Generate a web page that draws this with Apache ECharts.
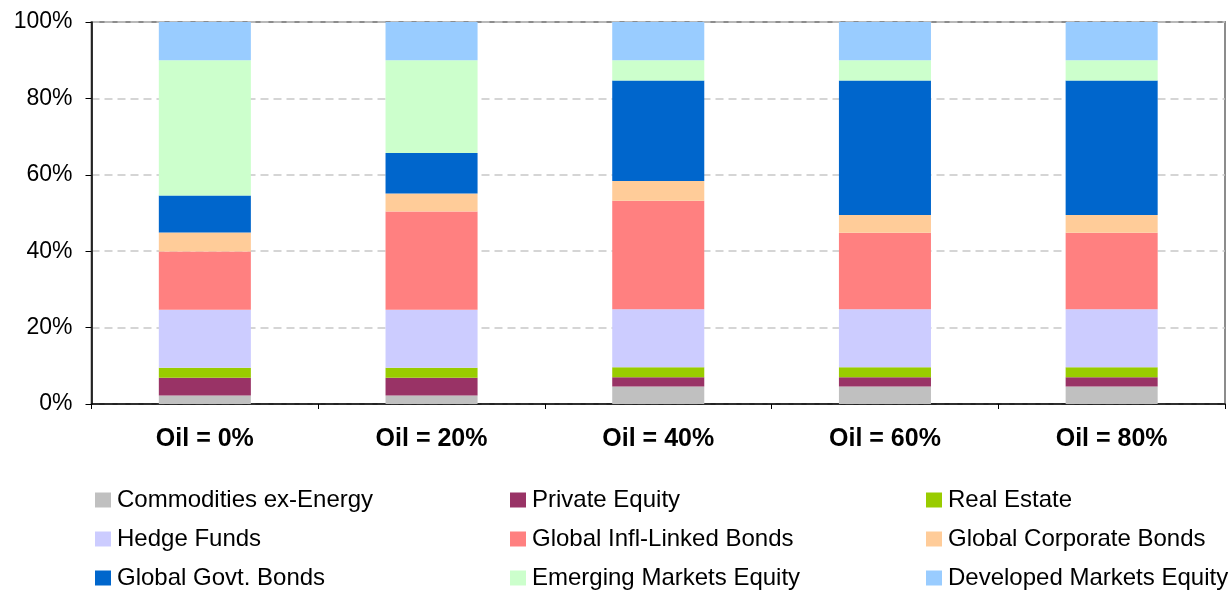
<!DOCTYPE html>
<html>
<head>
<meta charset="utf-8">
<script src="https://cdn.jsdelivr.net/npm/echarts@6/dist/echarts.min.js"></script>
<style>html,body{margin:0;padding:0;background:#fff}#c{width:1232px;height:590px}</style>
</head>
<body>
<div id="c"></div>
<script>
const categories = ['Oil = 0%', 'Oil = 20%', 'Oil = 40%', 'Oil = 60%', 'Oil = 80%'];
const yTicks = [0, 20, 40, 60, 80, 100];
const seriesNames = ['Commodities ex-Energy', 'Private Equity', 'Real Estate', 'Hedge Funds', 'Global Infl-Linked Bonds', 'Global Corporate Bonds', 'Global Govt. Bonds', 'Emerging Markets Equity', 'Developed Markets Equity'];
const commodities = [2.2, 2.2, 4.6, 4.6, 4.6];
const privateEquity = [4.7, 4.7, 2.4, 2.4, 2.4];
const realEstate = [2.6, 2.6, 2.6, 2.6, 2.6];
const hedgeFunds = [15.2, 15.2, 15.2, 15.2, 15.2];
const inflLinked = [15.2, 25.7, 28.4, 20.0, 20.0];
const corporate = [5.0, 4.7, 5.2, 4.7, 4.7];
const govt = [9.7, 10.6, 26.3, 35.2, 35.2];
const emerging = [35.4, 24.3, 5.3, 5.3, 5.3];
const developed = [10.0, 10.0, 10.0, 10.0, 10.0];
const seriesData = [commodities, privateEquity, realEstate, hedgeFunds, inflLinked, corporate, govt, emerging, developed];
const colors = ['#C0C0C0', '#993366', '#99CC00', '#CCCCFF', '#FF8080', '#FFCC99', '#0066CC', '#CCFFCC', '#99CCFF'];

const font = 'Liberation Sans, Arial, sans-serif';
const chart = echarts.init(document.getElementById('c'), null, {renderer: 'canvas'});

const colLeft = [95, 510, 926];
const rowCenter = [500, 539, 578];
const legends = seriesNames.map((n, i) => ({
  orient: 'horizontal', left: colLeft[i % 3], top: rowCenter[Math.floor(i / 3)] - 12,
  padding: 0, itemWidth: 16, itemHeight: 15, selectedMode: false, icon: 'rect',
  textStyle: {fontFamily: font, fontSize: 24, color: '#000', lineHeight: 24, padding: [0, 0, 0, 1]},
  data: [n]
}));

chart.setOption({
  animation: false,
  color: colors,
  grid: {left: 91.5, right: 7, top: 22, bottom: 186, show: true, borderColor: '#8c8c8c', borderWidth: 2, backgroundColor: '#fff'},
  legend: legends,
  xAxis: {
    type: 'category', data: categories,
    axisLine: {lineStyle: {color: '#000', width: 1.5}},
    axisTick: {show: true, length: 5, lineStyle: {color: '#000'}},
    axisLabel: {fontFamily: font, fontSize: 25, fontWeight: 'bold', color: '#000', margin: 23}
  },
  yAxis: {
    type: 'value', min: yTicks[0], max: yTicks[yTicks.length - 1], interval: 20,
    axisLine: {show: true, lineStyle: {color: '#000', width: 1.5}},
    axisTick: {show: true, length: 6, lineStyle: {color: '#000'}},
    axisLabel: {fontFamily: font, fontSize: 23, color: '#000', margin: 19, formatter: v => v + '%'},
    splitLine: {show: true, lineStyle: {color: '#c8c8c8', type: [8, 5], width: 1.5}}
  },
  series: seriesNames.map((n, i) => ({
    name: n, type: 'bar', stack: 'total', barWidth: '40.6%',
    data: seriesData[i], itemStyle: {color: colors[i]}
  }))
});
</script>
</body>
</html>
